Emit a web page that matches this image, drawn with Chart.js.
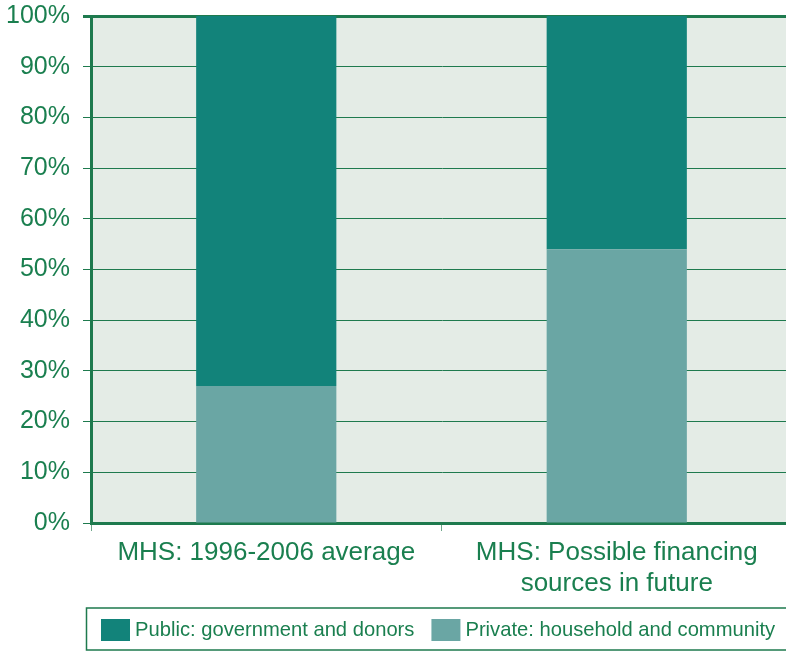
<!DOCTYPE html>
<html>
<head>
<meta charset="utf-8">
<script src="https://cdn.jsdelivr.net/npm/chart.js@4.4.1/dist/chart.umd.min.js"></script>
<style>
  html, body { margin: 0; padding: 0; background: #fff; overflow: hidden; }
  #wrap { width: 786px; height: 651px; overflow: hidden; }
</style>
</head>
<body>
<div id="wrap"><canvas id="mhsChart" width="792" height="651"></canvas></div>
<script>
// categories and series (% share of financing)
const categories = [
    ['MHS: 1996-2006 average'],
    ['MHS: Possible financing', 'sources in future']
];
const privateShare = [27, 54];
const publicShare = [73, 46];
const yTicks = [0, 10, 20, 30, 40, 50, 60, 70, 80, 90, 100];

const GREEN_TEXT = '#1A7F4F';
const GRID = '#1E7A4E';
const PUBLIC_COL = '#12837A';
const PRIVATE_COL = '#6AA6A4';

// pale panel behind the plot
const plotBackground = {
    id: 'plotBackground',
    beforeDraw(chart) {
        const { ctx, chartArea: a } = chart;
        ctx.save();
        ctx.fillStyle = '#E4ECE6';
        ctx.fillRect(a.left, a.top, a.right - a.left, a.bottom - a.top);
        ctx.restore();
    }
};

// boxed legend under the category labels (public listed first)
const boxedLegend = {
    id: 'boxedLegend',
    afterDraw(chart) {
        const ctx = chart.ctx;
        const items = [chart.data.datasets[1], chart.data.datasets[0]];
        ctx.save();
        ctx.strokeStyle = GRID;
        ctx.lineWidth = 1.5;
        ctx.strokeRect(86.5, 608, 740, 42);
        ctx.font = '20.2px "Liberation Sans", Arial, sans-serif';
        ctx.textBaseline = 'middle';
        let x = 101;
        items.forEach(ds => {
            ctx.fillStyle = ds.backgroundColor;
            ctx.fillRect(x, 619, 29, 22);
            ctx.fillStyle = GREEN_TEXT;
            ctx.fillText(ds.label, x + 34, 630);
            x += 34 + ctx.measureText(ds.label).width + 17;
        });
        ctx.restore();
    }
};

const ctx = document.getElementById('mhsChart').getContext('2d');
new Chart(ctx, {
    type: 'bar',
    data: {
        labels: categories,
        datasets: [
            {
                label: 'Private: household and community',
                data: privateShare,
                backgroundColor: PRIVATE_COL,
                barPercentage: 0.4,
                categoryPercentage: 1
            },
            {
                label: 'Public: government and donors',
                data: publicShare,
                backgroundColor: PUBLIC_COL,
                barPercentage: 0.4,
                categoryPercentage: 1
            }
        ]
    },
    options: {
        responsive: false,
        devicePixelRatio: 1,
        animation: false,
        layout: { padding: { top: 16, left: 0, right: 0, bottom: 0 } },
        plugins: {
            legend: { display: false },
            tooltip: { enabled: false }
        },
        scales: {
            x: {
                stacked: true,
                afterFit: s => { s.height = 128; s.paddingLeft = 0; s.paddingRight = 0; },
                border: { display: true, color: GRID, width: 3 },
                grid: {
                    offset: true,
                    drawOnChartArea: false,
                    drawTicks: true,
                    tickLength: 8,
                    color: '#6FA88A',
                    lineWidth: 1
                },
                ticks: {
                    color: GREEN_TEXT,
                    padding: 7,
                    maxRotation: 0,
                    font: { family: '"Liberation Sans", Arial, sans-serif', size: 26, lineHeight: 1.17 }
                }
            },
            y: {
                stacked: true,
                min: 0,
                max: 100,
                afterFit: s => { s.width = 91; s.paddingTop = 0; s.paddingBottom = 0; },
                afterBuildTicks: s => { s.ticks = yTicks.map(v => ({ value: v })); },
                border: { display: true, color: GRID, width: 3 },
                grid: {
                    color: GRID,
                    lineWidth: c => (c.tick && c.tick.value === 100 ? 3 : 1),
                    tickLength: 8
                },
                ticks: {
                    color: GREEN_TEXT,
                    padding: 13,
                    font: { family: '"Liberation Sans", Arial, sans-serif', size: 25 },
                    callback: v => v + '%'
                }
            }
        }
    },
    plugins: [plotBackground, boxedLegend]
});
</script>
</body>
</html>
